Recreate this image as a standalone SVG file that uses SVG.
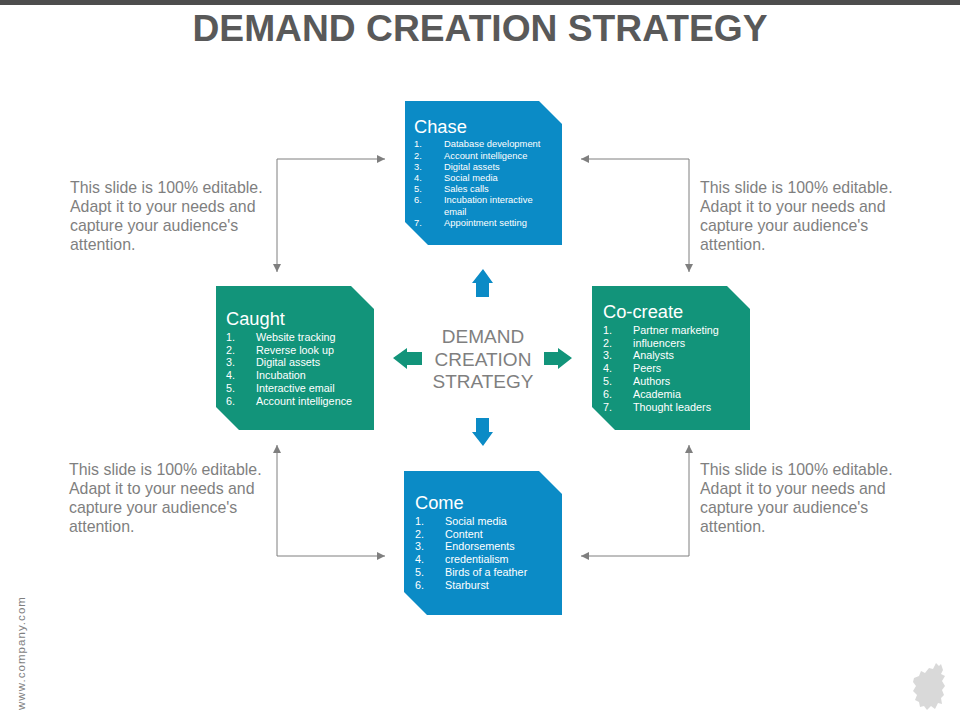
<svg xmlns="http://www.w3.org/2000/svg" width="960" height="720" viewBox="0 0 960 720">
<style>
text{font-family:"Liberation Sans",Arial,sans-serif}
.blue{fill:#0b8bc6}.green{fill:#12947a}
.h{font-size:18.3px;fill:#fff}
.li{font-size:10.8px;fill:#fff}
.sm{font-size:9.4px}
.note{font-size:15.9px;fill:#7f7f7f}
.c{font-size:19px;fill:#7f7f7f;text-anchor:middle}
.conn{fill:none;stroke:#7f7f7f;stroke-width:1;marker-start:url(#a);marker-end:url(#a)}
</style>
<defs><marker id="a" markerWidth="9" markerHeight="8" refX="8" refY="4" orient="auto-start-reverse" markerUnits="userSpaceOnUse"><path d="M0 0L8 4L0 8Z" fill="#7f7f7f"/></marker></defs>
<rect width="960" height="720" fill="#fff"/>
<rect width="960" height="5" fill="#4d4d4d"/>
<text x="480" y="41" text-anchor="middle" font-size="37.2" font-weight="bold" fill="#595959">DEMAND CREATION STRATEGY</text>
<g id="connectors">
<path class="conn" d="M385 159H277V272"/>
<path class="conn" d="M581 159H689V272"/>
<path class="conn" d="M277 445V556H385"/>
<path class="conn" d="M689 445V556H581"/>
</g>
<g id="chase"><path class="blue" d="M405 101H539L562 124V245H428L405 222Z"/>
<text class="h" x="414" y="133">Chase</text>
<text class="li sm" x="414" y="147">1.</text><text class="li sm" x="444" y="147">Database development</text>
<text class="li sm" x="414" y="159">2.</text><text class="li sm" x="444" y="159">Account intelligence</text>
<text class="li sm" x="414" y="170">3.</text><text class="li sm" x="444" y="170">Digital assets</text>
<text class="li sm" x="414" y="181">4.</text><text class="li sm" x="444" y="181">Social media</text>
<text class="li sm" x="414" y="192">5.</text><text class="li sm" x="444" y="192">Sales calls</text>
<text class="li sm" x="414" y="203">6.</text><text class="li sm" x="444" y="203">Incubation interactive</text>
<text class="li sm" x="444" y="215">email</text>
<text class="li sm" x="414" y="226">7.</text><text class="li sm" x="444" y="226">Appointment setting</text></g>
<g id="caught"><path class="green" d="M216 286H351L374 309V430H239L216 407Z"/>
<text class="h" x="226" y="325">Caught</text>
<text class="li" x="226" y="341">1.</text><text class="li" x="256" y="341">Website tracking</text>
<text class="li" x="226" y="354">2.</text><text class="li" x="256" y="354">Reverse look up</text>
<text class="li" x="226" y="366">3.</text><text class="li" x="256" y="366">Digital assets</text>
<text class="li" x="226" y="379">4.</text><text class="li" x="256" y="379">Incubation</text>
<text class="li" x="226" y="392">5.</text><text class="li" x="256" y="392">Interactive email</text>
<text class="li" x="226" y="405">6.</text><text class="li" x="256" y="405">Account intelligence</text></g>
<g id="cocreate"><path class="green" d="M592 286H727L750 309V430H615L592 407Z"/>
<text class="h" x="603" y="318">Co-create</text>
<text class="li" x="603" y="334">1.</text><text class="li" x="633" y="334">Partner marketing</text>
<text class="li" x="603" y="347">2.</text><text class="li" x="633" y="347">influencers</text>
<text class="li" x="603" y="359">3.</text><text class="li" x="633" y="359">Analysts</text>
<text class="li" x="603" y="372">4.</text><text class="li" x="633" y="372">Peers</text>
<text class="li" x="603" y="385">5.</text><text class="li" x="633" y="385">Authors</text>
<text class="li" x="603" y="398">6.</text><text class="li" x="633" y="398">Academia</text>
<text class="li" x="603" y="411">7.</text><text class="li" x="633" y="411">Thought leaders</text></g>
<g id="come"><path class="blue" d="M404 471H539L562 494V615H427L404 592Z"/>
<text class="h" x="415" y="509">Come</text>
<text class="li" x="415" y="525">1.</text><text class="li" x="445" y="525">Social media</text>
<text class="li" x="415" y="538">2.</text><text class="li" x="445" y="538">Content</text>
<text class="li" x="415" y="550">3.</text><text class="li" x="445" y="550">Endorsements</text>
<text class="li" x="415" y="563">4.</text><text class="li" x="445" y="563">credentialism</text>
<text class="li" x="415" y="576">5.</text><text class="li" x="445" y="576">Birds of a feather</text>
<text class="li" x="415" y="589">6.</text><text class="li" x="445" y="589">Starburst</text></g>
<g id="center"><text class="c" x="483" y="343">DEMAND</text><text class="c" x="483" y="366">CREATION</text><text class="c" x="483" y="388">STRATEGY</text></g>
<g id="arrows">
<path class="blue" d="M483 269L493 283H489V297H476V283H472Z"/>
<path class="blue" d="M483 446L493 432H489V418H476V432H472Z"/>
<path class="green" d="M393 358L407 348V352H422V365H407V369Z"/>
<path class="green" d="M572 358L558 348V352H544V365H558V369Z"/>
</g>
<g id="note-tl"><text class="note" x="70" y="193">This slide is 100% editable.</text><text class="note" x="70" y="212">Adapt it to your needs and</text><text class="note" x="70" y="231">capture your audience's</text><text class="note" x="70" y="250">attention.</text></g>
<g id="note-tr"><text class="note" x="700" y="193">This slide is 100% editable.</text><text class="note" x="700" y="212">Adapt it to your needs and</text><text class="note" x="700" y="231">capture your audience's</text><text class="note" x="700" y="250">attention.</text></g>
<g id="note-bl"><text class="note" x="69" y="475">This slide is 100% editable.</text><text class="note" x="69" y="494">Adapt it to your needs and</text><text class="note" x="69" y="513">capture your audience's</text><text class="note" x="69" y="532">attention.</text></g>
<g id="note-br"><text class="note" x="700" y="475">This slide is 100% editable.</text><text class="note" x="700" y="494">Adapt it to your needs and</text><text class="note" x="700" y="513">capture your audience's</text><text class="note" x="700" y="532">attention.</text></g>
<text transform="translate(25 710) rotate(-90)" font-size="11.5" letter-spacing="1.05" fill="#7f7f7f">www.company.com</text>
<path d="M914 678L919 676L921 671L925 673L929 668L933 669L936 663L939 666L941 664L943 670L941 674L945 676L942 681L945 686L942 690L944 695L941 698L942 704L938 703L935 709L931 706L927 710L924 706L920 707L919 702L915 700L917 695L913 691L916 686L913 682Z" fill="#d9d9d9"/>
</svg>
